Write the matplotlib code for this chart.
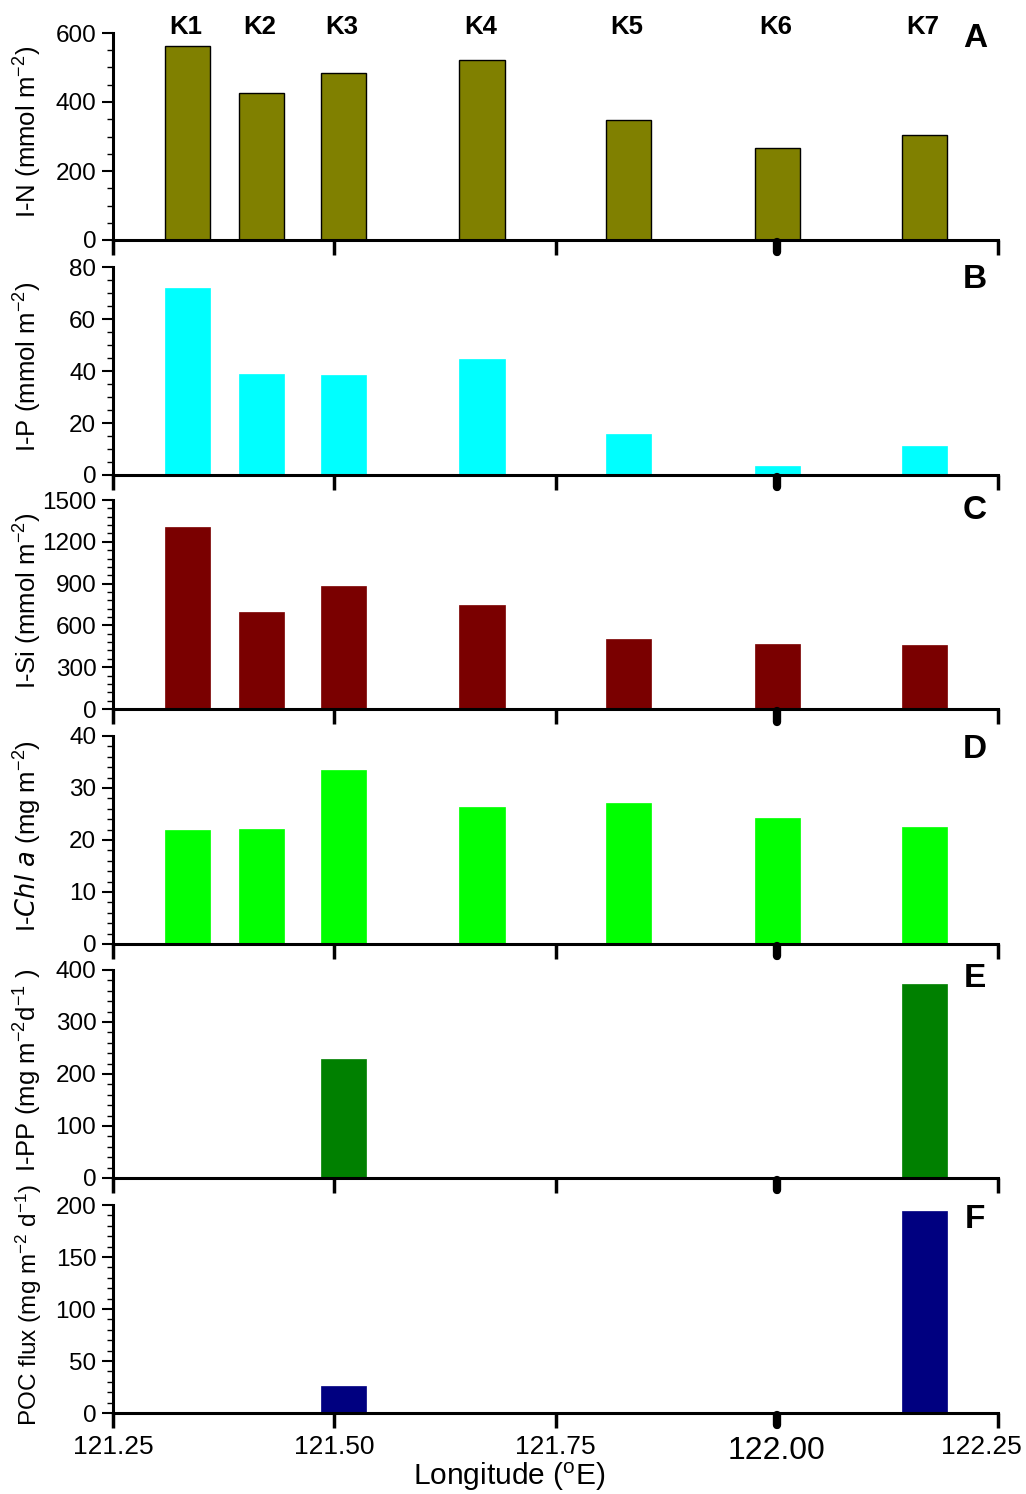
import numpy as np
import matplotlib
matplotlib.use('Agg')
import matplotlib.pyplot as plt
from matplotlib.ticker import MultipleLocator
import matplotlib.transforms as mtransforms

plt.rcParams['font.family'] = ['Liberation Sans', 'DejaVu Sans']
plt.rcParams['mathtext.default'] = 'regular'

stations = ['K1', 'K2', 'K3', 'K4', 'K5', 'K6', 'K7']
lon = [121.334, 121.418, 121.510, 121.667, 121.832, 122.001, 122.167]
i_n = [562, 425, 485, 523, 348, 268, 303]
i_p = [71.9, 38.9, 38.6, 44.8, 15.8, 3.4, 11.2]
i_si = [1306, 698, 885, 746, 502, 468, 460]
i_chl = [21.9, 22.1, 33.4, 26.3, 27.2, 24.2, 22.5]
pp_lon = [121.510, 122.167]
i_pp = [229, 373]
poc_lon = [121.510, 122.167]
poc = [26, 194]

xticks = [121.25, 121.50, 121.75, 122.00, 122.25]

panels = [
    (lon, i_n, '#808000', 'I-N (mmol m$^{-2}$)', 600, 200, 50, 'A'),
    (lon, i_p, '#00FFFF', 'I-P (mmol m$^{-2}$)', 80, 20, 5, 'B'),
    (lon, i_si, '#7A0000', 'I-Si (mmol m$^{-2}$)', 1500, 300, 60, 'C'),
    (lon, i_chl, '#00FF00', 'I-$\\it{Chl\\ a}$ (mg m$^{-2}$)', 40, 10, 2, 'D'),
    (pp_lon, i_pp, '#008000', 'I-PP (mg m$^{-2}$d$^{-1}$ )', 400, 100, 20, 'E'),
    (poc_lon, poc, '#000080', 'POC flux (mg m$^{-2}$ d$^{-1}$)', 200, 50, 10, 'F'),
]

W, H = 1026, 1494
tops = [33, 267, 500, 736, 970, 1205]
bots = [240, 475, 709, 944, 1178, 1413]
letter_y = [0.975, 0.94, 0.95, 0.935, 0.96, 0.93]
x0, x1 = 113, 998

fig = plt.figure(figsize=(W / 100, H / 100), dpi=100)

for i, (xs, ys, col, lab, ymax, maj, mnr, letter) in enumerate(panels):
    ax = fig.add_axes([x0 / W, 1 - bots[i] / H, (x1 - x0) / W, (bots[i] - tops[i]) / H])
    ax.bar(xs, ys, width=0.051, color=col,
           edgecolor='black' if letter == 'A' else col, lw=1 if letter == 'A' else 0.5)
    ax.set_xlim(121.25, 122.25)
    ax.set_ylim(0, ymax)
    ax.yaxis.set_major_locator(MultipleLocator(maj))
    ax.yaxis.set_minor_locator(MultipleLocator(mnr))
    ax.set_xticks(xticks)
    ax.spines['top'].set_visible(False)
    ax.spines['right'].set_visible(False)
    ax.spines['left'].set_linewidth(2.2)
    ax.spines['bottom'].set_linewidth(2.2)
    ax.tick_params(axis='y', which='major', direction='out', length=8, width=1.5,
                   labelsize=17.5, pad=4)
    ax.tick_params(axis='y', which='minor', direction='out', length=4, width=1)
    ax.tick_params(axis='x', which='major', direction='out', length=11, width=2.5,
                   labelsize=19, pad=5)
    ax.set_ylabel(lab, fontsize=18.5 if letter != 'F' else 17.5)
    ax.yaxis.set_label_coords((44 - x0) / (x1 - x0), 0.52)
    # heavy marker at 122.00
    tr = mtransforms.blended_transform_factory(ax.transData, ax.transAxes)
    ax.plot([122.0, 122.0], [-0.01, -0.06], transform=tr, color='black', lw=6,
            solid_capstyle='round', clip_on=False)
    ax.text(122.224, letter_y[i], letter, transform=tr, fontsize=24,
            fontweight='bold', ha='center', va='center')
    if letter == 'A':
        for s, x in zip(stations, lon):
            ax.text(x - 0.002, 1.03, s, transform=tr, fontsize=18.5, fontweight='bold',
                    ha='center', va='center')
    if letter == 'F':
        ax.set_xticklabels(['121.25', '121.50', '121.75', '', '122.25'])
        last = ax.get_xticklabels()[-1]
        last.set_transform(last.get_transform() +
                           mtransforms.ScaledTranslation(-0.17, 0, fig.dpi_scale_trans))
        ax.text(122.0, -0.11, '122.00', transform=tr, fontsize=23, ha='center', va='top')
        ax.text((509 - x0) / (x1 - x0), -0.305, 'Longitude ($^{o}$E)', transform=ax.transAxes,
                fontsize=21.5, ha='center', va='center')
    else:
        ax.set_xticklabels([])

fig.savefig('out.png', dpi=100)
